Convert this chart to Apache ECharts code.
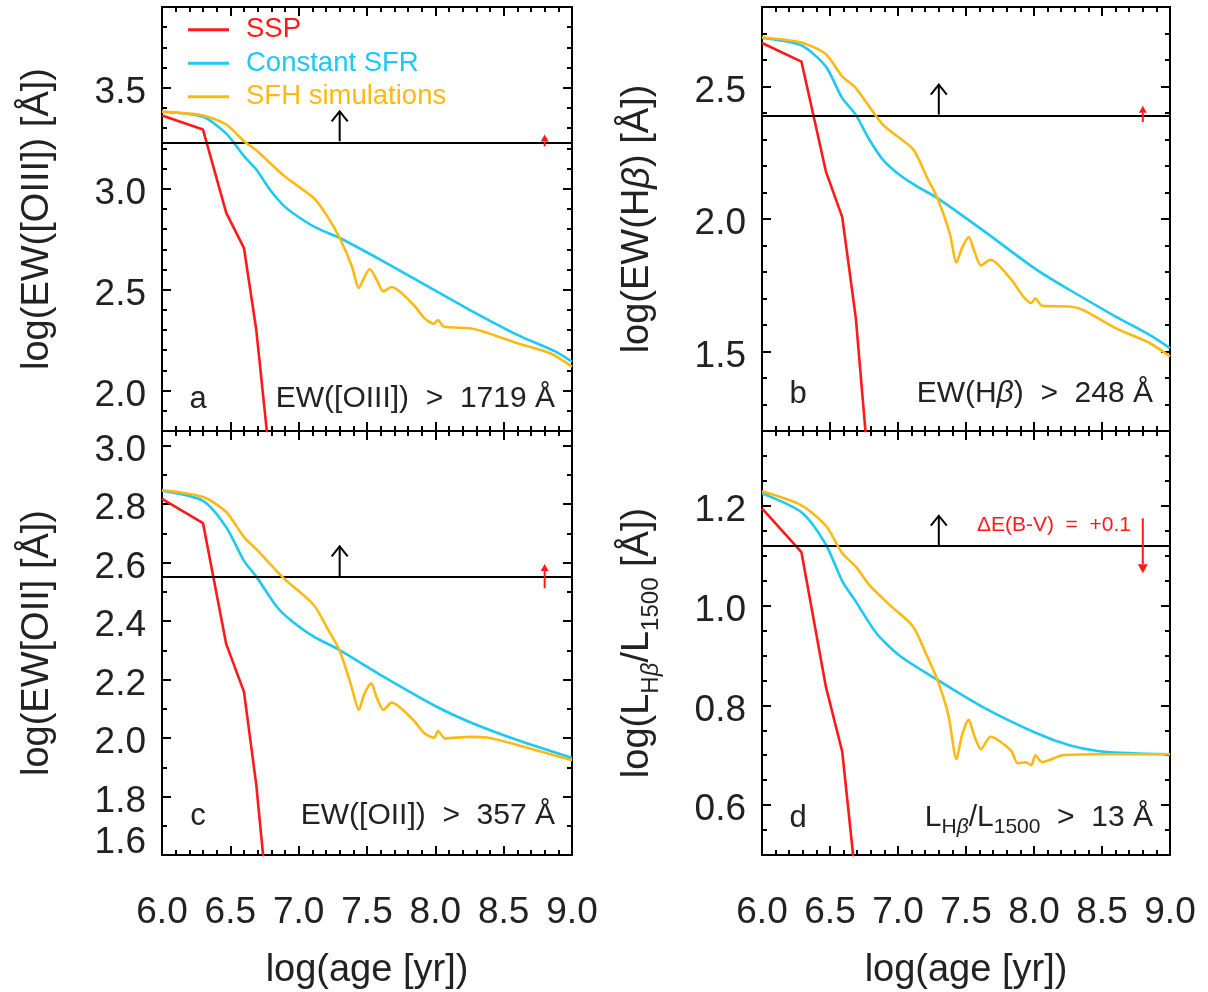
<!DOCTYPE html>
<html><head><meta charset="utf-8">
<script src="https://cdn.jsdelivr.net/npm/echarts@6/dist/echarts.min.js"></script>
<style>html,body{margin:0;padding:0;background:#fff}#c{width:1208px;height:992px}</style>
</head><body><div id="c"></div>
<script>
// ---------------- data ----------------
const xTicks = [6.0, 6.5, 7.0, 7.5, 8.0, 8.5, 9.0];
const yTicksA = [2.0, 2.5, 3.0, 3.5];
const yTicksB = [1.5, 2.0, 2.5];
const yTicksC = [1.6, 1.8, 2.0, 2.2, 2.4, 2.6, 2.8, 3.0];
const yTicksD = [0.6, 0.8, 1.0, 1.2];

const seriesNames = ['SSP', 'Constant SFR', 'SFH simulations'];

// panel a : log EW([OIII])
const sspA = [[6.00,3.363],[6.30,3.293],[6.47,2.880],[6.60,2.706],[6.69,2.300],[6.77,1.780],[6.79,1.640]];
const constA = [[6.00,3.381],[6.30,3.356],[6.47,3.273],[6.60,3.161],[6.69,3.095],[6.79,2.995],[6.90,2.910],[7.01,2.855],[7.13,2.806],[7.30,2.756],[7.62,2.640],[8.01,2.491],[8.25,2.400],[8.60,2.276],[8.88,2.193],[9.00,2.143]];
const sfhA = [[6.00,3.382],[6.30,3.363],[6.47,3.318],[6.60,3.235],[6.69,3.190],[6.90,3.060],[7.11,2.954],[7.21,2.863],[7.30,2.756],[7.39,2.615],[7.44,2.508],[7.48,2.560],[7.52,2.602],[7.57,2.550],[7.62,2.491],[7.68,2.513],[7.84,2.425],[7.92,2.359],[7.99,2.331],[8.02,2.350],[8.06,2.317],[8.25,2.309],[8.35,2.293],[8.60,2.235],[8.84,2.185],[9.00,2.119]];

// panel b : log EW(Hbeta)
const sspB = [[6.00,2.664],[6.29,2.594],[6.47,2.179],[6.59,2.007],[6.69,1.626],[6.76,1.204],[6.78,1.100]];
const constB = [[6.00,2.683],[6.29,2.655],[6.47,2.575],[6.59,2.456],[6.69,2.393],[6.79,2.299],[6.89,2.223],[7.01,2.167],[7.14,2.123],[7.29,2.079],[7.62,1.959],[8.02,1.808],[8.26,1.733],[8.60,1.632],[8.85,1.563],[9.00,1.513]];
const sfhB = [[6.00,2.686],[6.29,2.666],[6.47,2.622],[6.59,2.538],[6.69,2.494],[6.89,2.355],[7.11,2.264],[7.21,2.160],[7.29,2.079],[7.38,1.947],[7.43,1.836],[7.47,1.890],[7.52,1.932],[7.56,1.880],[7.61,1.825],[7.68,1.846],[7.83,1.773],[7.92,1.708],[7.98,1.683],[8.01,1.701],[8.06,1.672],[8.26,1.670],[8.36,1.657],[8.60,1.588],[8.85,1.532],[9.00,1.481]];

// panel c : log EW([OII])
const sspC = [[6.00,2.818],[6.30,2.735],[6.47,2.321],[6.60,2.158],[6.69,1.839],[6.74,1.599],[6.76,1.500]];
const constC = [[6.00,2.846],[6.30,2.811],[6.47,2.721],[6.60,2.606],[6.69,2.552],[6.84,2.449],[6.94,2.404],[7.11,2.347],[7.30,2.301],[7.62,2.210],[8.01,2.107],[8.25,2.055],[8.60,1.993],[9.00,1.932]];
const sfhC = [[6.00,2.848],[6.30,2.824],[6.47,2.773],[6.60,2.687],[6.69,2.646],[6.89,2.547],[7.11,2.455],[7.21,2.375],[7.30,2.299],[7.39,2.170],[7.44,2.096],[7.48,2.150],[7.53,2.187],[7.57,2.140],[7.62,2.096],[7.68,2.121],[7.84,2.061],[7.92,2.016],[7.99,2.001],[8.02,2.024],[8.07,1.999],[8.25,2.004],[8.38,2.002],[8.60,1.976],[9.00,1.924]];

// panel d : log(L_Hb / L_1500)
const sspD = [[6.00,1.195],[6.29,1.107],[6.47,0.837],[6.59,0.707],[6.67,0.500],[6.69,0.440]];
const constD = [[6.00,1.225],[6.29,1.187],[6.47,1.122],[6.59,1.049],[6.69,1.008],[6.84,0.945],[7.01,0.900],[7.29,0.851],[7.62,0.797],[8.02,0.744],[8.26,0.720],[8.48,0.708],[8.72,0.704],[9.00,0.702]];
const sfhD = [[6.00,1.229],[6.29,1.201],[6.47,1.160],[6.59,1.105],[6.69,1.078],[6.79,1.041],[6.94,1.001],[7.11,0.958],[7.21,0.901],[7.29,0.851],[7.37,0.781],[7.43,0.692],[7.47,0.740],[7.52,0.771],[7.56,0.740],[7.61,0.712],[7.68,0.737],[7.83,0.710],[7.88,0.684],[7.94,0.686],[7.98,0.680],[8.01,0.700],[8.06,0.686],[8.11,0.690],[8.21,0.700],[8.48,0.702],[9.00,0.702]];

// thresholds (log of the quoted limits) and arrows
const thresholds = [3.235, 2.394, 2.553, 1.120];
const blackArrowX = [7.3, 7.3, 7.3, 7.3];
const redArrows = [[8.8, 3.210, 3.268], [8.8, 2.366, 2.427], [8.8, 2.512, 2.595], [8.8, 1.175, 1.065]];

// ---------------- style / layout ----------------
const FONT = "'Liberation Sans', Arial, Helvetica, sans-serif";
const COLORS = ['#ff1a1a', '#1ec8f5', '#fdb913'];
const TXT = '#222';

function steps(a, b, s) { const out = []; for (let v = a; v <= b + 1e-9; v += s) out.push(Math.round(v * 1000) / 1000); return out; }
const xMinor = steps(6.1, 8.9, 0.1);

const panels = [
  { left: 162, top: 7, width: 410, ymin: 1.8, ymax: 3.9, major: yTicksA, minor: steps(1.9, 3.8, 0.1), xLabels: false,
    yName: 'log(EW([OIII]) [Å])', data: [sspA, constA, sfhA],
    note: 'EW([OIII])  >  1719 Å', letter: 'a', ny: 399 },
  { left: 762, top: 7, width: 408, ymin: 1.2, ymax: 2.8, major: yTicksB, minor: steps(1.3, 2.7, 0.1), xLabels: false,
    yName: 'log(EW(H{it|β}) [Å])', data: [sspB, constB, sfhB],
    note: 'EW(H{it|β})  >  248 Å', letter: 'b', ny: 394 },
  { left: 162, top: 431, width: 410, ymin: 1.6, ymax: 3.05, major: yTicksC, minor: steps(1.7, 3.0, 0.1), xLabels: true,
    yName: 'log(EW[OII] [Å])', data: [sspC, constC, sfhC], raised: [1.6],
    note: 'EW([OII])  >  357 Å', letter: 'c', ny: 816 },
  { left: 762, top: 431, width: 408, ymin: 0.5, ymax: 1.35, major: yTicksD, minor: steps(0.55, 1.30, 0.05), xLabels: true,
    yName: 'log(L{sub|H}{subit|β}/L{sub|1500} [Å])', data: [sspD, constD, sfhD],
    note: 'L{nsub|H}{nsubit|β}/L{nsub|1500}  >  13 Å', letter: 'd', ny: 818 }
];
const PH = 424;

const grids = [], xAxes = [], yAxes = [], series = [], graphics = [];
const NX = 4;

panels.forEach((p, g) => {
  grids.push({ left: p.left, top: p.top, width: p.width, height: PH, outerBoundsMode: 'none', containLabel: false });
  const axLine = { show: true, lineStyle: { color: '#000', width: 2 } };
  const tickMaj = (vals) => ({ show: true, inside: true, length: 9, customValues: vals, lineStyle: { color: '#000', width: 2 } });
  const tickMin = (vals) => ({ show: true, inside: true, length: 5, customValues: vals, lineStyle: { color: '#000', width: 2 } });
  const baseX = { type: 'value', gridIndex: g, min: 6, max: 9, splitLine: { show: false }, axisPointer: { show: false } };
  xAxes.push(Object.assign({}, baseX, {
    position: 'bottom', axisLine: axLine, axisTick: tickMaj(xTicks),
    axisLabel: { show: p.xLabels, customValues: xTicks, formatter: v => v.toFixed(1), margin: 39, fontSize: 37, color: TXT, fontFamily: FONT },
    name: p.xLabels ? 'log(age [yr])' : '', nameLocation: 'middle', nameGap: 97, nameMoveOverlap: false,
    nameTextStyle: { fontSize: 38, color: TXT, fontFamily: FONT }
  }));
  xAxes.push(Object.assign({}, baseX, { position: 'bottom', axisLine: { show: false }, axisTick: tickMin(xMinor), axisLabel: { show: false } }));
  xAxes.push(Object.assign({}, baseX, { position: 'top', axisLine: axLine, axisTick: tickMaj(xTicks), axisLabel: { show: false } }));
  xAxes.push(Object.assign({}, baseX, { position: 'top', axisLine: { show: false }, axisTick: tickMin(xMinor), axisLabel: { show: false } }));

  const raised = p.raised || [];
  const baseY = { type: 'value', gridIndex: g, min: p.ymin, max: p.ymax, splitLine: { show: false }, axisPointer: { show: false } };
  yAxes.push(Object.assign({}, baseY, {
    position: 'left', axisLine: axLine, axisTick: tickMaj(p.major),
    axisLabel: { show: true, customValues: p.major.filter(v => raised.indexOf(v) < 0), formatter: v => v.toFixed(1),
      margin: 16, fontSize: 37, color: TXT, fontFamily: FONT, verticalAlign: 'top', lineHeight: 10 },
    name: p.yName, nameLocation: 'middle', nameGap: 99, nameRotate: 90, nameMoveOverlap: false,
    nameTextStyle: { fontSize: 38, color: TXT, fontFamily: FONT, lineHeight: 50,
      rich: { it: { fontSize: 38, fontStyle: 'italic', color: TXT, fontFamily: FONT },
              sub: { fontSize: 24, lineHeight: 26, verticalAlign: 'bottom', color: TXT, fontFamily: FONT },
              subit: { fontSize: 24, lineHeight: 26, verticalAlign: 'bottom', fontStyle: 'italic', color: TXT, fontFamily: FONT } } }
  }));
  yAxes.push(Object.assign({}, baseY, { position: 'left', axisLine: { show: false }, axisTick: tickMin(p.minor), axisLabel: { show: false } }));
  yAxes.push(Object.assign({}, baseY, { position: 'right', axisLine: axLine, axisTick: tickMaj(p.major), axisLabel: { show: false } }));
  yAxes.push(Object.assign({}, baseY, { position: 'right', axisLine: { show: false }, axisTick: tickMin(p.minor), axisLabel: { show: false } }));
  // overlay axis carrying the bottom label that sits above its tick
  yAxes.push(Object.assign({}, baseY, { position: 'left', axisLine: { show: false }, axisTick: { show: false },
    axisLabel: { show: raised.length > 0, customValues: raised.length ? raised : [p.ymin], formatter: v => v.toFixed(1),
      margin: 16, fontSize: 37, color: TXT, fontFamily: FONT, verticalAlign: 'bottom', lineHeight: 24 } }));

  p.data.forEach((d, k) => {
    series.push({
      type: 'line', name: seriesNames[k], xAxisIndex: g * NX, yAxisIndex: g * 5, data: d,
      showSymbol: false, symbol: 'none', smooth: k === 0 ? false : 0.25, clip: true, z: 3 + k,
      lineStyle: { color: COLORS[k], width: 2.6 }, itemStyle: { color: COLORS[k] },
      emphasis: { disabled: true }, silent: true, animation: false
    });
  });

  // black arrow (fixed pixel length) + threshold line
  series.push({
    type: 'custom', xAxisIndex: g * NX, yAxisIndex: g * 5, silent: true, animation: false, z: 8,
    data: [[blackArrowX[g], thresholds[g]]],
    renderItem(params, api) {
      const p0 = api.coord([api.value(0), api.value(1)]);
      const tip = [p0[0], p0[1] - 30];
      return { type: 'group', children: [
        { type: 'line', shape: { x1: p0[0], y1: p0[1], x2: tip[0], y2: tip[1] }, style: { stroke: '#000', lineWidth: 2 } },
        { type: 'polyline', shape: { points: [[tip[0] - 8, tip[1] + 10], tip, [tip[0] + 8, tip[1] + 10]] }, style: { stroke: '#000', lineWidth: 2, fill: null } }
      ] };
    },
    markLine: { silent: true, symbol: ['none', 'none'], label: { show: false }, animation: false,
      lineStyle: { color: '#000', width: 2, type: 'solid' }, emphasis: { disabled: true }, data: [{ yAxis: thresholds[g] }] }
  });
  // red arrow (data shift)
  series.push({
    type: 'custom', xAxisIndex: g * NX, yAxisIndex: g * 5, silent: true, animation: false, z: 9,
    data: [redArrows[g]],
    renderItem(params, api) {
      const p0 = api.coord([api.value(0), api.value(1)]);
      const p1 = api.coord([api.value(0), api.value(2)]);
      const dir = p1[1] < p0[1] ? -1 : 1;
      const hl = g === 3 ? 9 : 7, hw = g === 3 ? 5 : 4;
      const by = p1[1] - dir * hl;
      return { type: 'group', children: [
        { type: 'line', shape: { x1: p0[0], y1: p0[1], x2: p1[0], y2: by }, style: { stroke: '#ff1a1a', lineWidth: 2 } },
        { type: 'polygon', shape: { points: [[p1[0] - hw, by], p1, [p1[0] + hw, by]] }, style: { fill: '#ff1a1a' } }
      ] };
    }
  });

  // panel letter and threshold note
  const richNote = {
    it: { fontSize: 30, fontStyle: 'italic', fill: TXT, fontFamily: FONT },
    nsub: { fontSize: 21, lineHeight: 22, verticalAlign: 'bottom', fill: TXT, fontFamily: FONT },
    nsubit: { fontSize: 21, lineHeight: 22, verticalAlign: 'bottom', fontStyle: 'italic', fill: TXT, fontFamily: FONT }
  };
  graphics.push({ type: 'text', x: p.left + 36, y: p.ny, silent: true,
    style: { text: p.letter, fontSize: 31, fontFamily: FONT, fill: TXT, align: 'center', verticalAlign: 'middle' } });
  graphics.push({ type: 'text', x: p.left + p.width - 17, y: p.ny, silent: true,
    style: { text: p.note, fontSize: 30, fontFamily: FONT, fill: TXT, align: 'right', verticalAlign: 'middle', lineHeight: 40, rich: richNote } });
});

graphics.push({ type: 'text', x: 1131, y: 525, silent: true,
  style: { text: 'ΔE(B-V)  =  +0.1', fontSize: 21, fontFamily: FONT, fill: '#ff1a1a', align: 'right', verticalAlign: 'middle' } });

const chart = echarts.init(document.getElementById('c'), null, { renderer: 'canvas' });
chart.setOption({
  animation: false,
  backgroundColor: '#fff',
  grid: grids,
  xAxis: xAxes,
  yAxis: yAxes,
  legend: {
    left: 183, top: 8, orient: 'vertical', icon: 'rect', itemWidth: 41, itemHeight: 3, itemGap: 0,
    selectedMode: false,
    textStyle: { fontSize: 27.5, lineHeight: 33.5, fontFamily: FONT, padding: [0, 0, 0, 12] },
    data: seriesNames.map((n, k) => ({ name: n, textStyle: { color: COLORS[k] } }))
  },
  series: series,
  graphic: graphics
});
</script></body></html>
